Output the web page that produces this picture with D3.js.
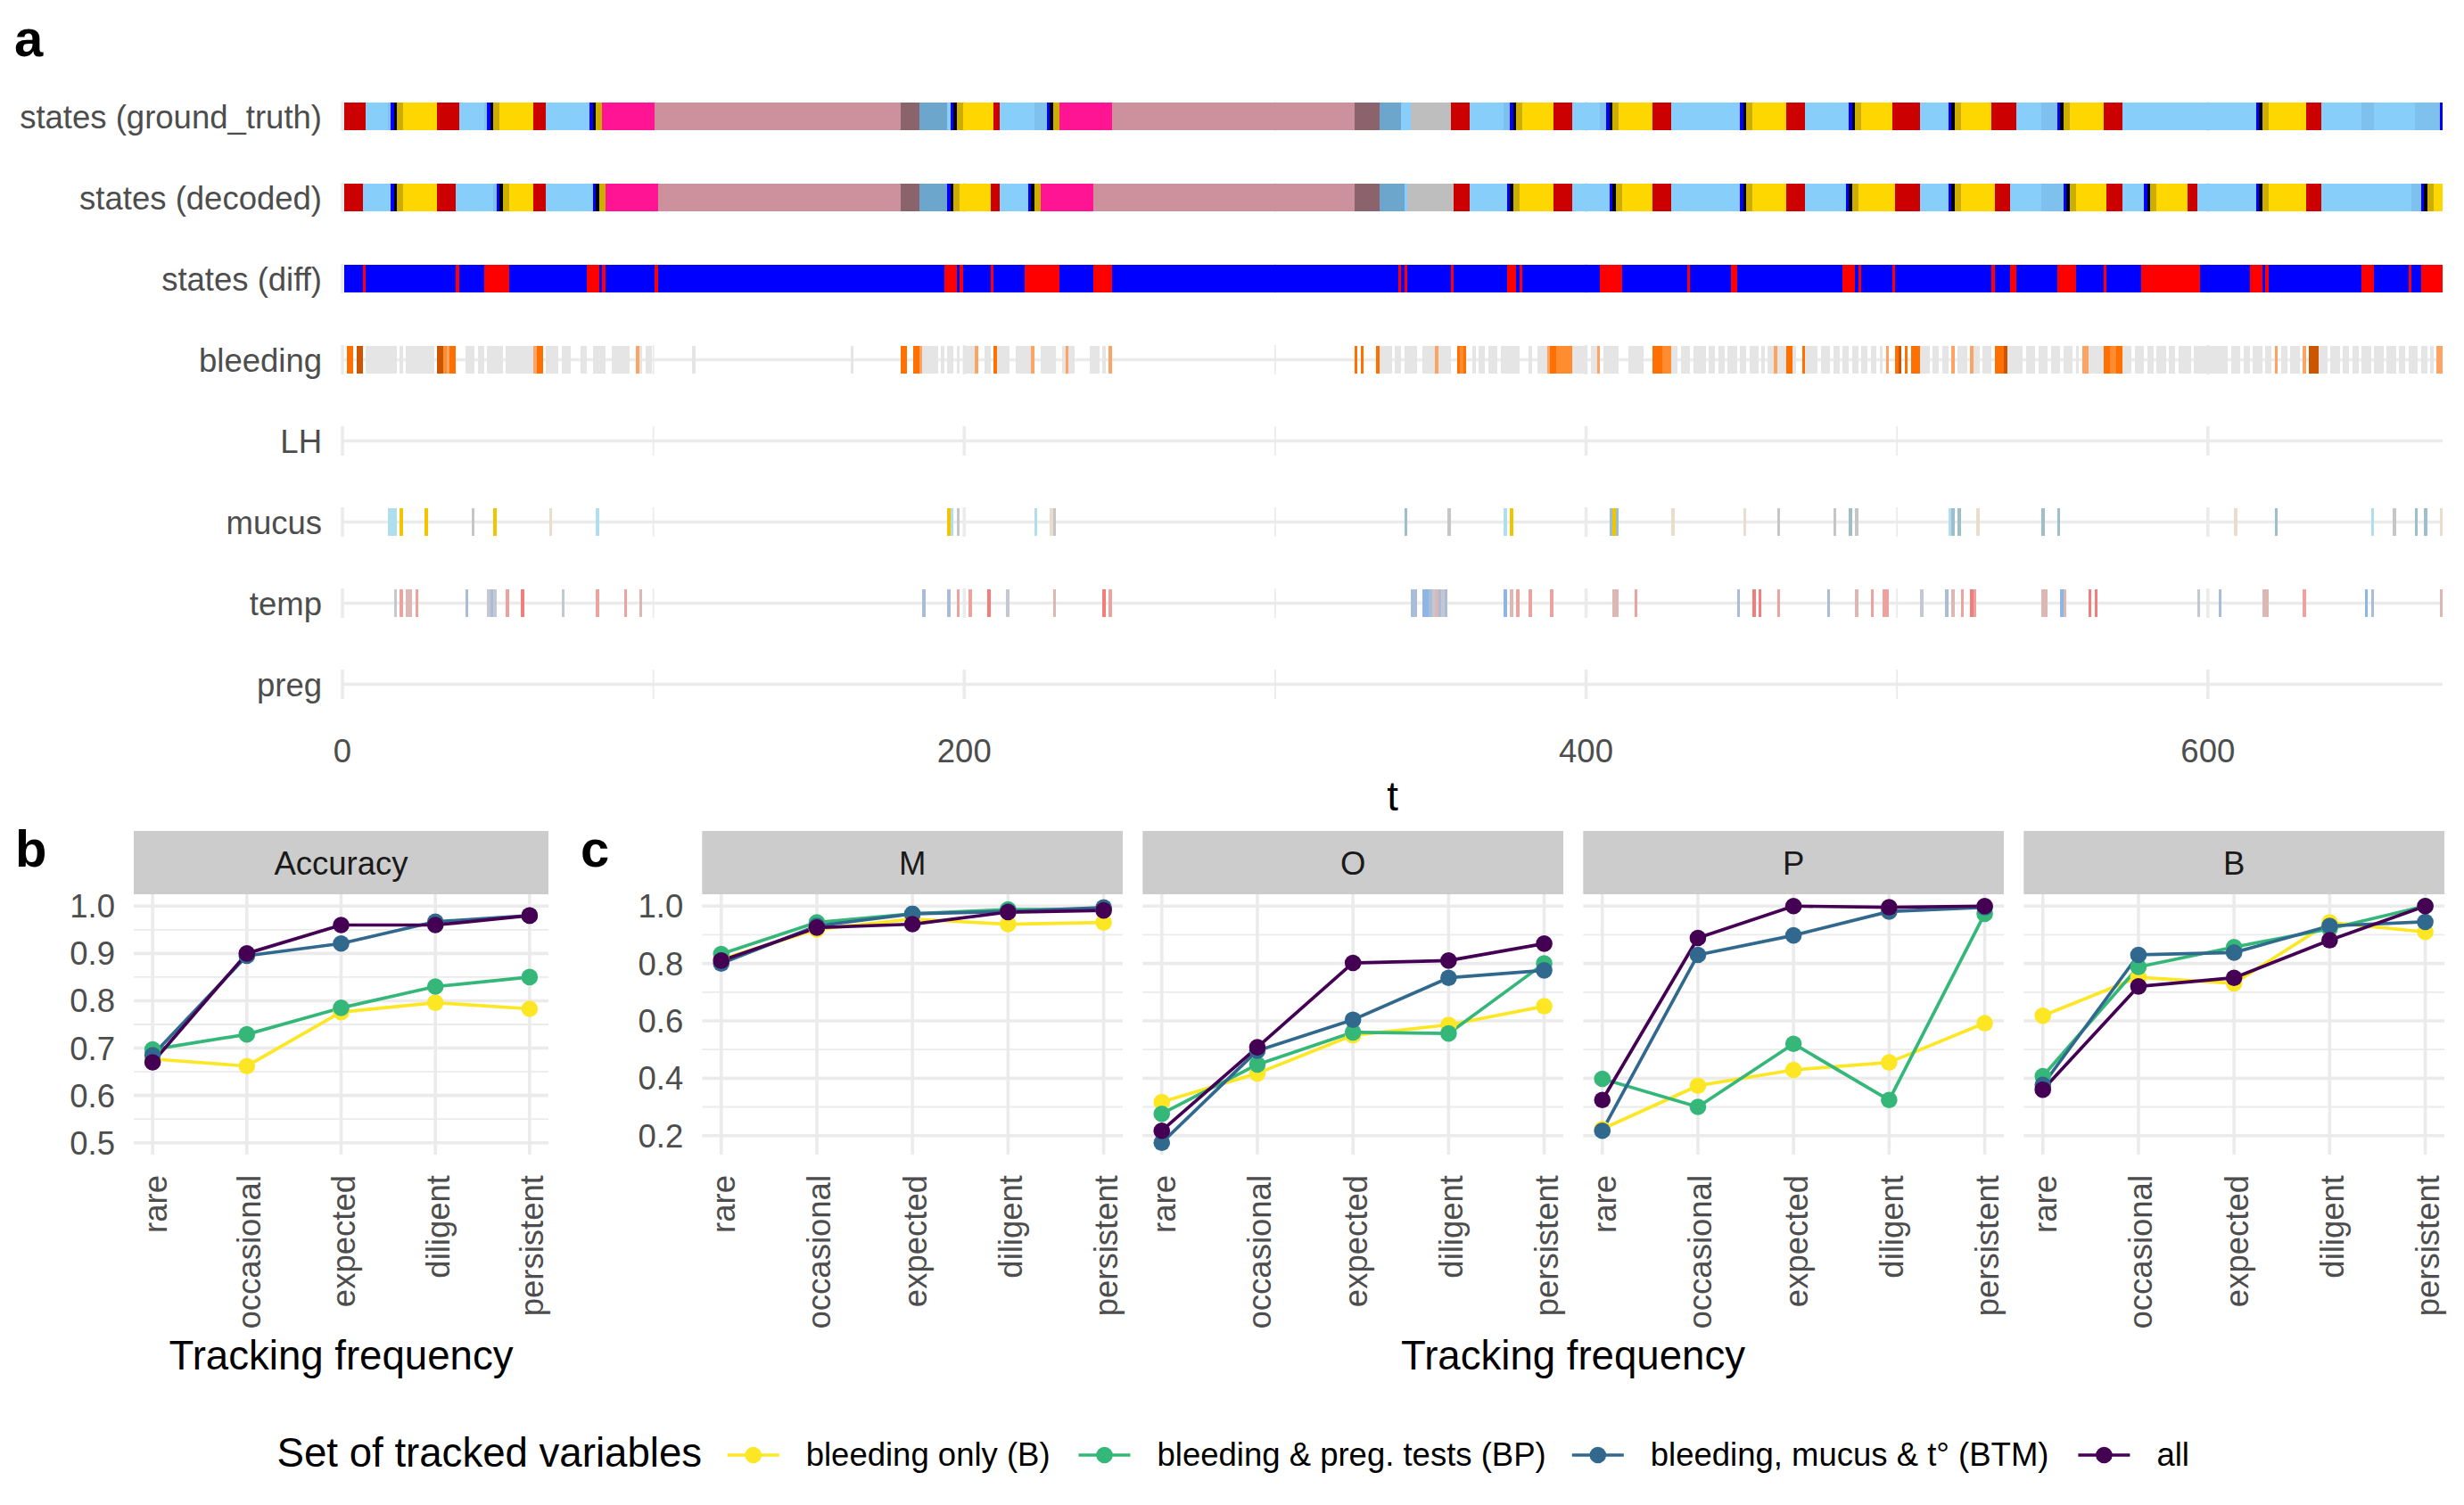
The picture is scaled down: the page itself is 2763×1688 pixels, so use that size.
<!DOCTYPE html>
<html><head><meta charset="utf-8">
<script src="https://cdn.jsdelivr.net/npm/d3@7/dist/d3.min.js"></script>
<style>body{margin:0;background:#fff}svg{display:block}text{font-family:"Liberation Sans",Arial,Helvetica,sans-serif}</style>
</head><body><svg id="c" width="2763" height="1688"></svg>
<script>
// ---------------- DATA ----------------
const rowLabels = ["states (ground_truth)","states (decoded)","states (diff)","bleeding","LH","mucus","temp","preg"];
const tMax = 675.5;
const tTicks = [0,200,400,600];
const tMinor = [100,300,500];

// hidden state segments: [start t, state]
const gtStates = [[0.5,"M"],[7.5,"F"],[14.5,"Fl"],[15.5,"B"],[16.5,"O"],[17.5,"Le"],[19.5,"L"],[30.5,"M"],[37.5,"F"],[45.5,"Fl"],[46.5,"B"],[47.5,"O"],[48.5,"Le"],[50.5,"L"],[61.5,"M"],[65.5,"F"],[79.5,"B"],[80.5,"O"],[81.5,"Le"],[83.5,"P1"],[100.5,"P"],[179.5,"PP"],[185.5,"Lact"],[194.5,"F"],[195.5,"B"],[196.5,"O"],[197.5,"Le"],[199.5,"L"],[209.5,"M"],[211.5,"F"],[222.5,"Fl"],[226.5,"B"],[227.5,"O"],[228.5,"Le"],[230.5,"P1"],[247.5,"P"],[325.5,"PP"],[333.5,"Lact"],[340.5,"F"],[343.5,"G"],[356.5,"M"],[362.5,"F"],[373.5,"Fl"],[375.5,"B"],[376.5,"O"],[377.5,"Le"],[379.5,"L"],[389.5,"M"],[395.5,"F"],[404.5,"Fl"],[406.5,"B"],[407.5,"O"],[408.5,"Le"],[410.5,"L"],[421.5,"M"],[427.5,"F"],[449.5,"B"],[450.5,"O"],[451.5,"Le"],[453.5,"L"],[464.5,"M"],[470.5,"F"],[484.5,"B"],[485.5,"O"],[486.5,"Le"],[488.5,"L"],[498.5,"M"],[507.5,"F"],[516.5,"B"],[517.5,"O"],[518.5,"Le"],[520.5,"L"],[530.5,"M"],[538.5,"F"],[546.5,"Fl"],[551.5,"B"],[552.5,"O"],[553.5,"Le"],[555.5,"L"],[566.5,"M"],[572.5,"F"],[615.5,"B"],[616.5,"O"],[617.5,"Le"],[619.5,"L"],[631.5,"M"],[636.5,"F"],[649.5,"Fl"],[653.5,"F"],[666.5,"Fl"],[674.5,"B"]];
const decStates = [[0.5,"M"],[6.5,"F"],[15.5,"B"],[16.5,"O"],[17.5,"Le"],[19.5,"L"],[30.5,"M"],[36.5,"F"],[48.5,"Fl"],[49.5,"B"],[50.5,"O"],[51.5,"Le"],[53.5,"L"],[61.5,"M"],[65.5,"F"],[80.5,"B"],[81.5,"O"],[82.5,"Le"],[84.5,"P1"],[101.5,"P"],[179.5,"PP"],[185.5,"Lact"],[194.5,"B"],[195.5,"O"],[196.5,"Le"],[198.5,"L"],[208.5,"M"],[211.5,"F"],[220.5,"B"],[221.5,"O"],[222.5,"Le"],[224.5,"P1"],[241.5,"P"],[325.5,"PP"],[333.5,"Lact"],[341.5,"F"],[342.5,"G"],[357.5,"M"],[362.5,"F"],[374.5,"B"],[375.5,"O"],[376.5,"Le"],[378.5,"L"],[389.5,"M"],[395.5,"F"],[407.5,"B"],[408.5,"O"],[409.5,"Le"],[411.5,"L"],[421.5,"M"],[427.5,"F"],[449.5,"B"],[450.5,"O"],[451.5,"Le"],[453.5,"L"],[464.5,"M"],[470.5,"F"],[483.5,"B"],[484.5,"O"],[485.5,"Le"],[487.5,"L"],[499.5,"M"],[507.5,"F"],[516.5,"B"],[517.5,"O"],[518.5,"Le"],[520.5,"L"],[531.5,"M"],[536.5,"F"],[546.5,"Fl"],[553.5,"B"],[554.5,"O"],[555.5,"Le"],[557.5,"L"],[567.5,"M"],[572.5,"F"],[579.5,"B"],[580.5,"O"],[581.5,"Le"],[583.5,"L"],[593.5,"M"],[596.5,"F"],[615.5,"B"],[616.5,"O"],[617.5,"Le"],[619.5,"L"],[631.5,"M"],[636.5,"F"],[665.5,"Fl"],[668.5,"B"],[669.5,"O"],[670.5,"Le"],[672.5,"L"]];
// days where decoded state differs from ground truth: [start, end]
const diffMismatch = [[6.5,7.5],[36.5,37.5],[45.5,53.5],[78.5,82.5],[83.5,84.5],[100.5,101.5],[193.5,197.5],[198.5,199.5],[208.5,209.5],[219.5,230.5],[241.5,247.5],[339.5,340.5],[341.5,342.5],[356.5,357.5],[374.5,377.5],[378.5,379.5],[404.5,411.5],[432.5,433.5],[446.5,448.5],[482.5,486.5],[487.5,488.5],[498.5,499.5],[530.5,531.5],[536.5,538.5],[551.5,557.5],[566.5,567.5],[578.5,597.5],[613.5,617.5],[618.5,619.5],[649.5,653.5],[664.5,665.5],[668.5,675.5]];
// bleeding observations: [start, end, level] (0 = none)
const bleeding = [[1.5,3.5,3],[4.5,6.5,4],[7.5,17.5,0],[18.5,19.5,0],[20.5,29.5,0],[30.5,32.5,4],[32.5,33.5,2],[33.5,34.5,1],[34.5,36.5,3],[39.5,42.5,0],[43.5,45.5,0],[46.5,51.5,0],[52.5,61.5,0],[61.5,62.5,1],[62.5,64.5,3],[65.5,69.5,0],[70.5,73.5,0],[76.5,78.5,0],[80.5,84.5,0],[86.5,92.5,0],[94.5,95.5,1],[95.5,96.5,0],[97.5,99.5,0],[112.5,113.5,0],[163.5,164.5,0],[179.5,181.5,3],[183.5,185.5,3],[185.5,186.5,1],[186.5,191.5,0],[192.5,193.5,0],[194.5,196.5,0],[197.5,198.5,0],[199.5,203.5,0],[203.5,204.5,1],[206.5,208.5,0],[209.5,210.5,3],[210.5,214.5,0],[216.5,221.5,0],[221.5,222.5,1],[224.5,229.5,0],[231.5,232.5,0],[232.5,233.5,1],[233.5,235.5,0],[240.5,243.5,0],[244.5,245.5,0],[246.5,247.5,1],[325.5,326.5,3],[327.5,328.5,3],[332.5,333.5,3],[333.5,337.5,0],[338.5,340.5,0],[341.5,345.5,0],[347.5,351.5,0],[351.5,352.5,1],[352.5,356.5,0],[358.5,359.5,3],[359.5,360.5,2],[360.5,361.5,3],[363.5,364.5,0],[365.5,367.5,0],[368.5,371.5,0],[372.5,378.5,0],[381.5,382.5,0],[384.5,387.5,0],[387.5,388.5,1],[388.5,390.5,3],[390.5,395.5,2],[395.5,398.5,0],[398.5,400.5,0],[401.5,403.5,0],[403.5,404.5,1],[405.5,410.5,0],[413.5,418.5,0],[421.5,422.5,3],[422.5,424.5,3],[424.5,427.5,2],[427.5,429.5,0],[430.5,433.5,0],[434.5,438.5,0],[439.5,441.5,0],[442.5,444.5,0],[445.5,448.5,0],[449.5,451.5,0],[452.5,455.5,0],[456.5,457.5,0],[458.5,460.5,0],[460.5,461.5,1],[461.5,464.5,0],[464.5,466.5,3],[466.5,467.5,0],[469.5,470.5,3],[470.5,474.5,0],[475.5,478.5,0],[479.5,481.5,0],[482.5,484.5,0],[485.5,487.5,0],[488.5,490.5,0],[491.5,493.5,0],[494.5,495.5,0],[496.5,497.5,1],[499.5,500.5,3],[500.5,501.5,4],[502.5,503.5,3],[504.5,507.5,3],[507.5,510.5,0],[511.5,513.5,0],[514.5,516.5,0],[517.5,518.5,1],[519.5,522.5,0],[523.5,524.5,1],[524.5,526.5,0],[527.5,530.5,0],[531.5,534.5,3],[534.5,535.5,4],[535.5,540.5,0],[541.5,544.5,0],[545.5,548.5,0],[549.5,552.5,0],[553.5,556.5,0],[557.5,558.5,0],[559.5,561.5,1],[561.5,566.5,0],[566.5,568.5,3],[568.5,570.5,2],[570.5,572.5,3],[572.5,575.5,0],[576.5,579.5,0],[580.5,582.5,0],[583.5,586.5,0],[587.5,589.5,0],[590.5,594.5,0],[595.5,606.5,0],[607.5,610.5,0],[611.5,613.5,0],[614.5,617.5,0],[618.5,620.5,0],[621.5,622.5,1],[623.5,625.5,0],[626.5,629.5,0],[630.5,631.5,1],[632.5,635.5,4],[635.5,638.5,0],[639.5,642.5,0],[643.5,645.5,0],[646.5,648.5,0],[649.5,652.5,0],[653.5,656.5,0],[657.5,660.5,0],[661.5,663.5,0],[664.5,667.5,0],[668.5,670.5,0],[671.5,672.5,0],[673.5,675.5,1]];
// mucus observations: [day, type]
const mucus = [[15,"lb"],[16,"lb"],[17,"lb"],[19,"go"],[27,"go"],[42,"gr"],[49,"go"],[67,"wh"],[82,"lb"],[195,"go"],[196,"lb"],[198,"gr"],[223,"lb"],[228,"wh"],[229,"gr"],[342,"st"],[356,"gr"],[374,"lb"],[376,"go"],[408,"st"],[409,"go"],[410,"st"],[428,"wh"],[451,"wh"],[462,"gr"],[480,"gr"],[485,"st"],[487,"gr"],[517,"lb"],[518,"st"],[520,"st"],[526,"wh"],[547,"st"],[552,"st"],[609,"wh"],[622,"st"],[653,"lb"],[660,"gr"],[667,"st"],[670,"st"],[675,"wh"]];
// temperature observations: [day, level]
const temp = [[17,0],[19,2],[21,1],[22,1],[24,2],[40,-1],[47,0],[48,-1],[49,0],[53,2],[58,3],[71,0],[82,2],[91,2],[96,1],[187,-1],[195,-1],[198,2],[202,2],[208,3],[214,0],[229,1],[245,3],[247,2],[344,-1],[345,-1],[348,-2],[349,-2],[350,-1],[351,0],[352,1],[353,-1],[354,0],[355,-1],[374,-2],[376,1],[378,2],[382,2],[389,2],[409,1],[410,1],[416,2],[449,-1],[454,3],[456,3],[462,2],[478,-1],[487,1],[492,2],[496,2],[497,2],[508,0],[516,-1],[518,1],[521,2],[524,3],[525,2],[547,1],[548,1],[553,-2],[554,1],[562,3],[564,3],[597,0],[604,-1],[618,1],[619,1],[631,2],[651,-2],[653,-1],[675,1]];

// panels b & c
const freqLevels = ["rare","occasional","expected","diligent","persistent"];
const seriesNames = ["bleeding only (B)","bleeding & preg. tests (BP)","bleeding, mucus & t° (BTM)","all"];
const accuracy = [
  [0.677,0.662,0.776,0.796,0.783],
  [0.697,0.729,0.785,0.830,0.850],
  [0.685,0.895,0.921,0.967,0.980],
  [0.670,0.900,0.960,0.960,0.980]
];
const accTicks = [0.5,0.6,0.7,0.8,0.9,1.0];
const facetNames = ["M","O","P","B"];
const facetVals = {
  M: [[0.814,0.919,0.955,0.937,0.943],[0.833,0.943,0.973,0.988,0.988],[0.800,0.931,0.973,0.981,0.995],[0.810,0.925,0.937,0.979,0.985]],
  O: [[0.317,0.417,0.550,0.586,0.651],[0.276,0.448,0.560,0.556,0.800],[0.175,0.496,0.604,0.750,0.776],[0.217,0.508,0.802,0.810,0.869]],
  P: [[0.223,0.374,0.429,0.455,0.592],[0.398,0.300,0.520,0.324,0.973],[0.217,0.830,0.898,0.981,0.996],[0.324,0.889,1.000,0.996,1.000]],
  B: [[0.618,0.752,0.731,0.943,0.910],[0.407,0.788,0.857,0.921,1.000],[0.377,0.830,0.838,0.931,0.945],[0.360,0.720,0.750,0.881,1.000]]
};
const facetTicks = [0.2,0.4,0.6,0.8,1.0];

// ---------------- STYLE ----------------
const stateColor = {M:"#CC0000",F:"#87CEFA",Fl:"#7EC0EE",B:"#0000FF",O:"#000000",Le:"#CDAD00",L:"#FFD700",P1:"#FF1493",P:"#CD919E",PP:"#8B636C",Lact:"#6CA6CD",G:"#BEBEBE"};
const bleedColor = ["#E5E5E5","#FDA464","#FF8C2E","#FF7000","#CC5500"];
const mucusColor = {lb:"#B0DEEE",st:"#9DBFCC",go:"#F2C500",wh:"#EBDDCB",gr:"#C6C6C6"};
const tempColor = d3.scaleOrdinal().domain([-2,-1,0,1,2,3]).range(["#8DB6E6","#A9BDD8","#C4C8D2","#DDB7B4","#EDA39D","#F37D7A"]);
const seriesColor = ["#FDE725","#35B779","#31688E","#440154"];
const GRID = "#EBEBEB", TICK = "#4D4D4D";
const FS = 36.5, FT = 45.6;

const svg = d3.select("#c");
svg.append("rect").attr("width",2763).attr("height",1688).attr("fill","#fff");

// ---------------- PANEL A ----------------
const x = d3.scaleLinear().domain([0, tMax]).range([384, 2739]);
const yRow = d3.scalePoint().domain(rowLabels).range([130.5, 767.5]);
const bandH = 33, tileH = 31;
const gA = svg.append("g");

rowLabels.forEach(r => {
  const cy = yRow(r);
  tMinor.forEach(v => gA.append("line").attr("x1",x(v)).attr("x2",x(v)).attr("y1",cy-bandH/2).attr("y2",cy+bandH/2).attr("stroke",GRID).attr("stroke-width",1.8));
  tTicks.forEach(v => gA.append("line").attr("x1",x(v)).attr("x2",x(v)).attr("y1",cy-bandH/2).attr("y2",cy+bandH/2).attr("stroke",GRID).attr("stroke-width",3.6));
  gA.append("line").attr("x1",x(0)).attr("x2",x(tMax)).attr("y1",cy).attr("y2",cy).attr("stroke",GRID).attr("stroke-width",3.6);
  gA.append("text").attr("x",361).attr("y",cy+13.2).attr("text-anchor","end").attr("font-size",FS).attr("fill",TICK).text(r);
});

function segsFromBreaks(br){ return br.map((b,i)=>({s:b[0], e:(i<br.length-1?br[i+1][0]:tMax), k:b[1]})); }
function drawSegs(row, segs, colorFn){
  const cy = yRow(row);
  gA.append("g").selectAll("rect").data(segs).join("rect")
    .attr("x",d=>x(d.s)).attr("width",d=>Math.max(0.5,x(d.e)-x(d.s)))
    .attr("y",cy-tileH/2).attr("height",tileH).attr("fill",colorFn).attr("shape-rendering","crispEdges");
}
drawSegs(rowLabels[0], segsFromBreaks(gtStates), d=>stateColor[d.k]);
drawSegs(rowLabels[1], segsFromBreaks(decStates), d=>stateColor[d.k]);
drawSegs(rowLabels[2], [{s:0.5,e:tMax,k:0}].concat(diffMismatch.map(d=>({s:d[0],e:d[1],k:1}))), d=>d.k?"#FF0000":"#0000FF");
drawSegs(rowLabels[3], bleeding.map(d=>({s:d[0],e:d[1],k:d[2]})), d=>bleedColor[d.k]);
drawSegs(rowLabels[5], mucus.map(d=>({s:d[0]-0.5,e:d[0]+0.5,k:d[1]})), d=>mucusColor[d.k]);
drawSegs(rowLabels[6], temp.map(d=>({s:d[0]-0.5,e:d[0]+0.5,k:d[1]})), d=>tempColor(d.k));

tTicks.forEach(v => gA.append("text").attr("x",x(v)).attr("y",855).attr("text-anchor","middle").attr("font-size",FS).attr("fill",TICK).text(v));
gA.append("text").attr("x",(x(0)+x(tMax))/2).attr("y",909).attr("text-anchor","middle").attr("font-size",FT).attr("fill","#000").text("t");

// ---------------- PANELS B & C ----------------
const pTop = 1003, pBot = 1295;
function facet(left, width, title, yS, majors, vals, showY){
  const g = svg.append("g");
  const xs = d3.scalePoint().domain(freqLevels).range([left, left+width]).padding(0.2);
  const minors = majors.slice(0,-1).map((v,i)=>(v+majors[i+1])/2);
  minors.forEach(v => g.append("line").attr("x1",left).attr("x2",left+width).attr("y1",yS(v)).attr("y2",yS(v)).attr("stroke",GRID).attr("stroke-width",1.8));
  majors.forEach(v => g.append("line").attr("x1",left).attr("x2",left+width).attr("y1",yS(v)).attr("y2",yS(v)).attr("stroke",GRID).attr("stroke-width",3.6));
  freqLevels.forEach(c => g.append("line").attr("x1",xs(c)).attr("x2",xs(c)).attr("y1",pTop).attr("y2",pBot).attr("stroke",GRID).attr("stroke-width",3.6));
  g.append("rect").attr("x",left).attr("y",932).attr("width",width).attr("height",pTop-932).attr("fill","#CCCCCC");
  g.append("text").attr("x",left+width/2).attr("y",980.5).attr("text-anchor","middle").attr("font-size",FS).attr("fill","#1A1A1A").text(title);
  const line = d3.line().x((d,i)=>xs(freqLevels[i])).y(d=>yS(d));
  vals.forEach((s,si)=> g.append("path").attr("d",line(s)).attr("fill","none").attr("stroke",seriesColor[si]).attr("stroke-width",3.7).attr("stroke-linejoin","round"));
  vals.forEach((s,si)=> g.append("g").selectAll("circle").data(s).join("circle")
    .attr("cx",(d,i)=>xs(freqLevels[i])).attr("cy",d=>yS(d)).attr("r",9.3).attr("fill",seriesColor[si]));
  freqLevels.forEach(c => g.append("text").attr("transform",`translate(${xs(c)+3},1318) rotate(-90)`)
    .attr("text-anchor","end").attr("dominant-baseline","central").attr("font-size",FS).attr("fill",TICK).text(c));
  if(showY) majors.forEach(v => g.append("text").attr("x",left-21).attr("y",yS(v)+13).attr("text-anchor","end").attr("font-size",FS).attr("fill",TICK).text(d3.format(".1f")(v)));
}
// b
const accLim = [d3.min(accTicks), d3.max(accTicks)];
const accPad = (accLim[1]-accLim[0])*0.05;
const yB = d3.scaleLinear().domain([accLim[0]-accPad, accLim[1]+accPad]).range([pBot,pTop]);
facet(150, 465, "Accuracy", yB, accTicks, accuracy, true);
// c
const allC = facetNames.flatMap(f=>facetVals[f].flat());
const cExt = d3.extent(allC), cPad = (cExt[1]-cExt[0])*0.05;
const yC = d3.scaleLinear().domain([cExt[0]-cPad, cExt[1]+cPad]).range([pBot,pTop]);
facetNames.forEach((f,i)=> facet(787.3 + i*494, 471.7, f, yC, facetTicks, facetVals[f], i===0));

svg.append("text").attr("x",382.5).attr("y",1536).attr("text-anchor","middle").attr("font-size",FT).attr("fill","#000").text("Tracking frequency");
svg.append("text").attr("x",1764).attr("y",1536).attr("text-anchor","middle").attr("font-size",FT).attr("fill","#000").text("Tracking frequency");

// panel tags
[["a",16,63],["b",17,972],["c",651,972]].forEach(t => svg.append("text").attr("x",t[1]).attr("y",t[2]).attr("font-size",58).attr("font-weight","bold").attr("fill","#000").text(t[0]));

// ---------------- LEGEND ----------------
const lg = svg.append("g");
lg.append("text").attr("x",310.6).attr("y",1645).attr("font-size",FT).attr("fill","#000").text("Set of tracked variables");
const keyX = [844.7,1238.5,1791.8,2359.4];
seriesNames.forEach((n,i)=>{
  const cx = keyX[i], cy = 1632;
  lg.append("line").attr("x1",cx-29).attr("x2",cx+29).attr("y1",cy).attr("y2",cy).attr("stroke",seriesColor[i]).attr("stroke-width",3.7);
  lg.append("circle").attr("cx",cx).attr("cy",cy).attr("r",9.3).attr("fill",seriesColor[i]);
  lg.append("text").attr("x",cx+59).attr("y",1644).attr("font-size",FS).attr("fill","#000").text(n);
});
</script></body></html>
